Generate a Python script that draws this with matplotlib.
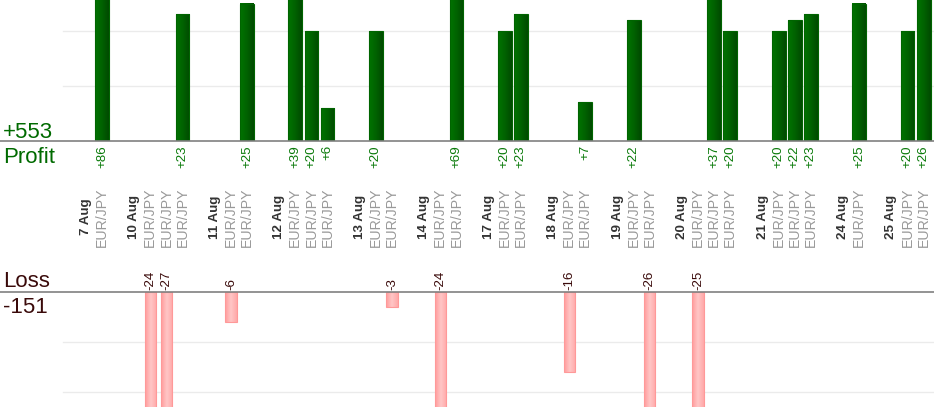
import numpy as np
import matplotlib
matplotlib.use("Agg")
import matplotlib.pyplot as plt
from matplotlib.colors import LinearSegmentedColormap
from matplotlib.transforms import blended_transform_factory

plt.rcParams['font.family'] = ['Liberation Sans', 'DejaVu Sans']

# trades grouped by day (all EUR/JPY)
dates = ["7 Aug", "10 Aug", "11 Aug", "12 Aug", "13 Aug", "14 Aug", "17 Aug",
         "18 Aug", "19 Aug", "20 Aug", "21 Aug", "24 Aug", "25 Aug"]
results = [[86], [-24, -27, 23], [-6, 25], [39, 20, 6], [20, -3], [-24, 69],
           [20, 23], [-16, 7], [22, -26], [-25, 37, 20], [20, 22, 23], [25],
           [20, 26]]
pair = "EUR/JPY"

# slot layout: date label, trades, empty gap
date_x = []
trade_x = []
trade_v = []
pos = 0
for d, res in zip(dates, results):
    date_x.append(pos)
    pos += 1
    for v in res:
        trade_x.append(pos)
        trade_v.append(v)
        pos += 1
    pos += 1
trade_x = np.array(trade_x)
trade_v = np.array(trade_v)

total_profit = trade_v[trade_v > 0].sum()
total_loss = trade_v[trade_v < 0].sum()

W, H = 934, 420
fig = plt.figure(figsize=(W / 100, H / 100), dpi=100)

slot = 16.11
x0 = 85.9
xlim = (-x0 / slot, (W - x0) / slot)
top_ylim = (0, 141 / 5.5)
bot_ylim = (-(407 - 292) / 5.0, 0)

green_txt = "#006a00"
loss_txt = "#3a0a0a"

# top (profit) axes: baseline at 141px
ax1 = fig.add_axes([0, 1 - 141 / H, 1, 141 / H])
# bottom (loss) axes: baseline at 292px
ax2 = fig.add_axes([0, 1 - 407 / H, 1, (407 - 292) / H])

for ax in (ax1, ax2):
    ax.axis("off")

for g in (10, 20):
    ax1.axhline(g, xmin=63 / W, xmax=1, color="#ebebeb", lw=1, zorder=0)
    ax2.axhline(-g, xmin=63 / W, xmax=1, color="#ebebeb", lw=1, zorder=0)

green_cm = LinearSegmentedColormap.from_list("g", ["#007400", "#006200", "#004a00"])
pink_cm = LinearSegmentedColormap.from_list("p", ["#ff9c9c", "#ffc6c6", "#ffa8a8"])
grad = np.linspace(0, 1, 64).reshape(1, -1)

prof = trade_v > 0
bars1 = ax1.bar(trade_x[prof], trade_v[prof], width=0.86, color="none",
                edgecolor="#006400", lw=0.8, zorder=3)
for b in bars1:
    x, w, h = b.get_x(), b.get_width(), b.get_height()
    ax1.imshow(grad, cmap=green_cm, aspect="auto",
               extent=(x, x + w, 0, min(h, top_ylim[1])), zorder=2)

bars2 = ax2.bar(trade_x[~prof], trade_v[~prof], width=0.7, color="none",
                edgecolor="#ff9999", lw=0.8, zorder=3)
for b in bars2:
    x, w, h = b.get_x(), b.get_width(), b.get_height()
    ax2.imshow(grad, cmap=pink_cm, aspect="auto",
               extent=(x, x + w, max(h, bot_ylim[0]), 0), zorder=2)

for ax in (ax1, ax2):
    ax.set_xlim(*xlim)
ax1.set_ylim(*top_ylim)
ax2.set_ylim(*bot_ylim)

# baselines across full width
ax1.axhline(0, color="#808080", lw=1.2, zorder=4, clip_on=False)
ax2.axhline(0, color="#808080", lw=1.2, zorder=4, clip_on=False)

# value labels
for x, v in zip(trade_x[prof], trade_v[prof]):
    ax1.annotate("+%d" % v, (x, 0), xytext=(0, -3), textcoords="offset points",
                 rotation=90, ha="center", va="top", fontsize=9.6,
                 color="#0a7a0a", annotation_clip=False)
for x, v in zip(trade_x[~prof], trade_v[~prof]):
    ax2.annotate("%d" % v, (x, 0), xytext=(0, 1.5), textcoords="offset points",
                 rotation=90, ha="center", va="bottom", fontsize=9.6,
                 color=loss_txt, annotation_clip=False)

# category labels in the middle band
tr = blended_transform_factory(ax1.transData, fig.transFigure)
ymid = 1 - 217 / H
for x, d in zip(date_x, dates):
    ax1.text(x, ymid, d, transform=tr, rotation=90, ha="center", va="center",
             fontsize=9.6, fontweight="bold", color="#333333", clip_on=False)
for x in trade_x:
    ax1.text(x, ymid, pair, transform=tr, rotation=90, ha="center", va="center",
             fontsize=10.2, color="#999999", clip_on=False)

# totals
fig.text(3 / W, 1 - 138 / H, "+%d" % total_profit, fontsize=16, color=green_txt,
         ha="left", va="baseline")
fig.text(3 / W, 1 - 163 / H, "Profit", fontsize=16, color=green_txt,
         ha="left", va="baseline")
fig.text(3 / W, 1 - 287 / H, "Loss", fontsize=16, color=loss_txt,
         ha="left", va="baseline")
fig.text(3 / W, 1 - 313 / H, "%d" % total_loss, fontsize=16, color=loss_txt,
         ha="left", va="baseline")

fig.savefig("out.png", dpi=100)
